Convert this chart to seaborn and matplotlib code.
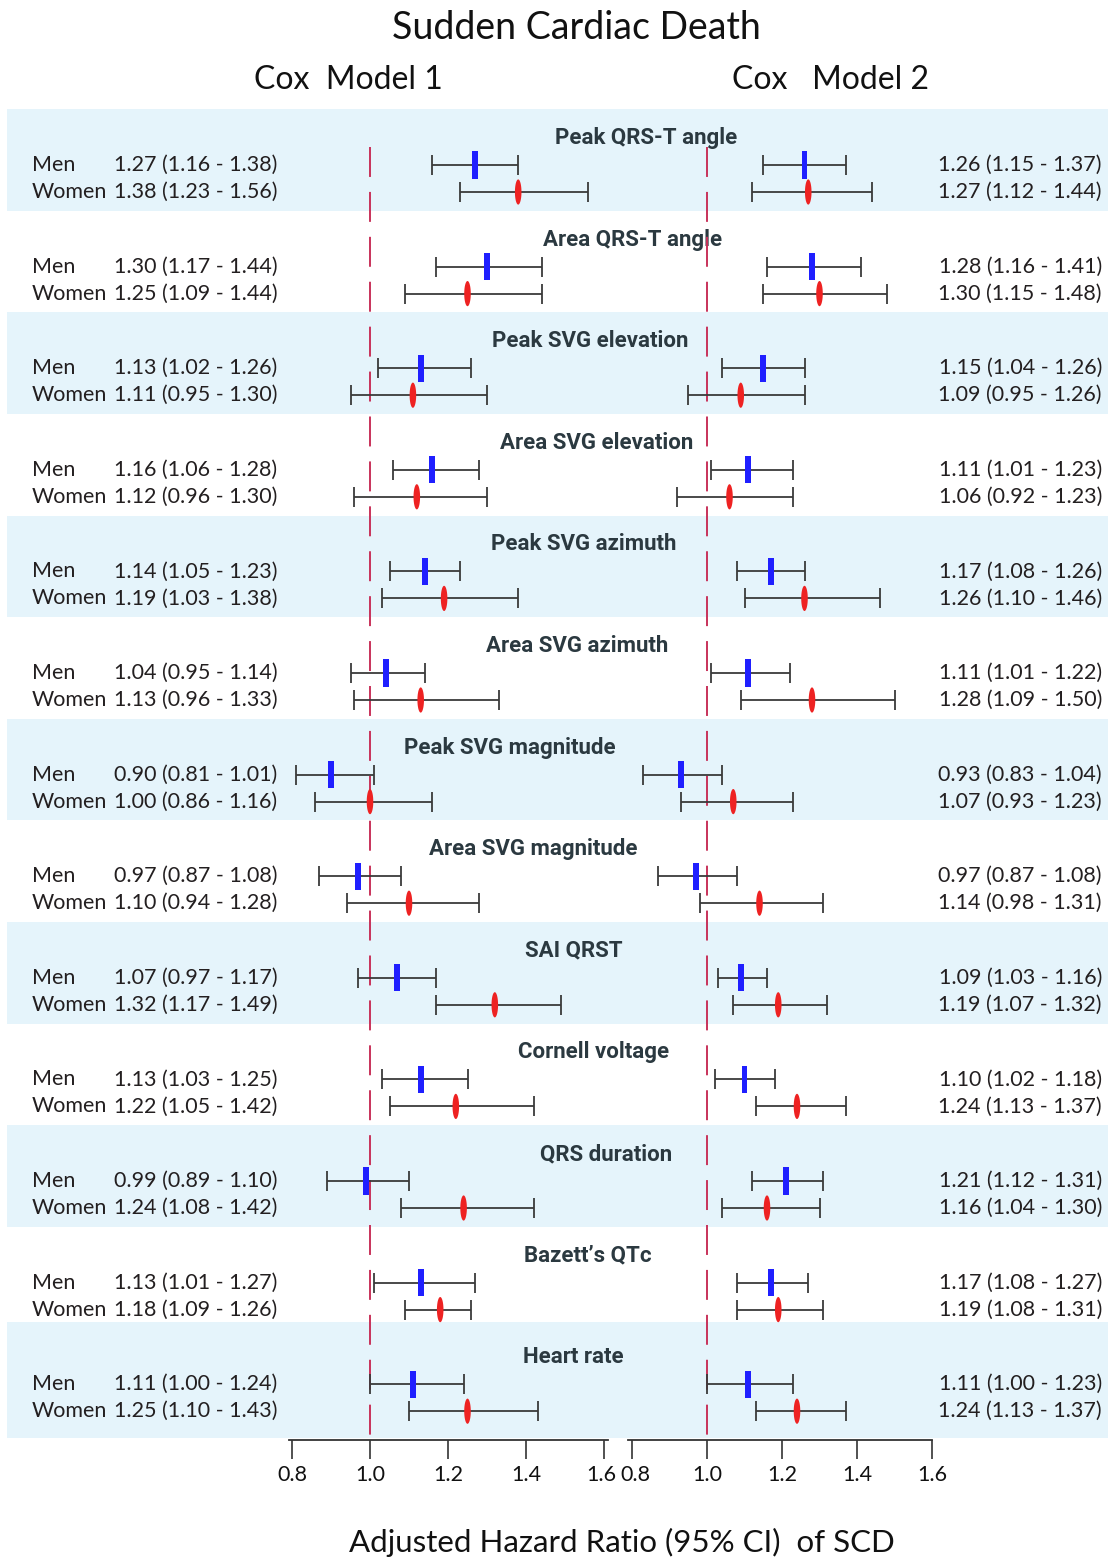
import numpy as np
import pandas as pd
import matplotlib
matplotlib.use("Agg")
import matplotlib.pyplot as plt
import matplotlib.transforms as mtransforms
import seaborn as sns

# ---------------- data ----------------
groups = ["Peak QRS-T angle", "Area QRS-T angle", "Peak SVG elevation",
          "Area SVG elevation", "Peak SVG azimuth", "Area SVG azimuth",
          "Peak SVG magnitude", "Area SVG magnitude", "SAI QRST",
          "Cornell voltage", "QRS duration", "Bazett\u2019s QTc", "Heart rate"]

m1_men_hr = [1.27, 1.30, 1.13, 1.16, 1.14, 1.04, 0.90, 0.97, 1.07, 1.13, 0.99, 1.13, 1.11]
m1_men_lo = [1.16, 1.17, 1.02, 1.06, 1.05, 0.95, 0.81, 0.87, 0.97, 1.03, 0.89, 1.01, 1.00]
m1_men_hi = [1.38, 1.44, 1.26, 1.28, 1.23, 1.14, 1.01, 1.08, 1.17, 1.25, 1.10, 1.27, 1.24]
m1_wom_hr = [1.38, 1.25, 1.11, 1.12, 1.19, 1.13, 1.00, 1.10, 1.32, 1.22, 1.24, 1.18, 1.25]
m1_wom_lo = [1.23, 1.09, 0.95, 0.96, 1.03, 0.96, 0.86, 0.94, 1.17, 1.05, 1.08, 1.09, 1.10]
m1_wom_hi = [1.56, 1.44, 1.30, 1.30, 1.38, 1.33, 1.16, 1.28, 1.49, 1.42, 1.42, 1.26, 1.43]

m2_men_hr = [1.26, 1.28, 1.15, 1.11, 1.17, 1.11, 0.93, 0.97, 1.09, 1.10, 1.21, 1.17, 1.11]
m2_men_lo = [1.15, 1.16, 1.04, 1.01, 1.08, 1.01, 0.83, 0.87, 1.03, 1.02, 1.12, 1.08, 1.00]
m2_men_hi = [1.37, 1.41, 1.26, 1.23, 1.26, 1.22, 1.04, 1.08, 1.16, 1.18, 1.31, 1.27, 1.23]
m2_wom_hr = [1.27, 1.30, 1.09, 1.06, 1.26, 1.28, 1.07, 1.14, 1.19, 1.24, 1.16, 1.19, 1.24]
m2_wom_lo = [1.12, 1.15, 0.95, 0.92, 1.10, 1.09, 0.93, 0.98, 1.07, 1.13, 1.04, 1.08, 1.13]
m2_wom_hi = [1.44, 1.48, 1.26, 1.23, 1.46, 1.50, 1.23, 1.31, 1.32, 1.37, 1.30, 1.31, 1.37]

ticks = [0.8, 1.0, 1.2, 1.4, 1.6]
tick_labels = ["0.8", "1.0", "1.2", "1.4", "1.6"]

# ---------------- layout (pixels) ----------------
W, H = 1108, 1560
ROW0, STEP = 160.0, 101.6
AX_TOP, AX_BOT = 107, 1440
title_x = [646, 633, 590, 597, 584, 577, 510, 533, 574, 594, 606, 588, 573]

n = len(groups)
centers = ROW0 + STEP * np.arange(n)
y_men = centers + 5
y_wom = centers + 32
y_title = centers - 22

sns.set_theme(style="white")
plt.rcParams["font.family"] = ["Lato", "DejaVu Sans"]

fig = plt.figure(figsize=(W / 100, H / 100), dpi=100)
fig.patch.set_facecolor("white")

# background axes in pixel coordinates
bg = fig.add_axes([0, 0, 1, 1])
bg.set_xlim(0, W)
bg.set_ylim(H, 0)
bg.axis("off")

band_color = "#e5f4fb"
for i in range(0, n, 2):
    top = centers[i] - STEP / 2
    bot = centers[i] + STEP / 2 if i < n - 1 else AX_BOT - 2
    if i == n - 1:
        top -= 6
    bg.fill_between([7, W], top, bot, color=band_color, lw=0, zorder=0)

txt_col = "#231f20"
fs_row = 15.5
for i in range(n):
    bg.text(32, y_men[i], "Men", fontsize=fs_row, va="center", ha="left", color=txt_col)
    bg.text(32, y_wom[i], "Women", fontsize=fs_row, va="center", ha="left", color=txt_col)
    bg.text(114, y_men[i], f"{m1_men_hr[i]:.2f} ({m1_men_lo[i]:.2f} - {m1_men_hi[i]:.2f})",
            fontsize=fs_row, va="center", ha="left", color=txt_col)
    bg.text(114, y_wom[i], f"{m1_wom_hr[i]:.2f} ({m1_wom_lo[i]:.2f} - {m1_wom_hi[i]:.2f})",
            fontsize=fs_row, va="center", ha="left", color=txt_col)
    bg.text(1102, y_men[i], f"{m2_men_hr[i]:.2f} ({m2_men_lo[i]:.2f} - {m2_men_hi[i]:.2f})",
            fontsize=fs_row, va="center", ha="right", color=txt_col)
    bg.text(1102, y_wom[i], f"{m2_wom_hr[i]:.2f} ({m2_wom_lo[i]:.2f} - {m2_wom_hi[i]:.2f})",
            fontsize=fs_row, va="center", ha="right", color=txt_col)
    bg.text(title_x[i], y_title[i], groups[i], fontsize=16, fontweight="bold",
            family=["Roboto", "DejaVu Sans"], va="center", ha="center",
            color="#2b3940", zorder=5)

bg.text(576, 28, "Sudden Cardiac Death", fontsize=27, ha="center", va="center", color="#111111")
bg.text(348, 80, "Cox  Model 1", fontsize=23, ha="center", va="center", color="#111111")
bg.text(830, 80, "Cox   Model 2", fontsize=23, ha="center", va="center", color="#111111")
bg.text(622, 1542, "Adjusted Hazard Ratio (95% CI)  of SCD", fontsize=22.5,
        ha="center", va="center", color="#111111")

# ---------------- forest panels ----------------
blue_marker = [(-0.11, -0.5), (0.11, -0.5), (0.11, 0.5), (-0.11, 0.5)]
t = np.linspace(0, 2 * np.pi, 40)
red_marker = list(zip(0.13 * np.cos(t), 0.5 * np.sin(t)))

panels = [
    (289, 608, 370, 390.0, m1_men_hr, m1_men_lo, m1_men_hi, m1_wom_hr, m1_wom_lo, m1_wom_hi),
    (628, 932, 707, 375.0, m2_men_hr, m2_men_lo, m2_men_hi, m2_wom_hr, m2_wom_lo, m2_wom_hi),
]

axes = []
for (x0, x1, x_one, ppu, mhr, mlo, mhi, whr, wlo, whi) in panels:
    ax = fig.add_axes([x0 / W, 1 - AX_BOT / H, (x1 - x0) / W, (AX_BOT - AX_TOP) / H])
    axes.append(ax)
    ax.set_facecolor("none")
    ax.set_xlim(1 - (x_one - x0) / ppu, 1 + (x1 - x_one) / ppu)
    ax.set_ylim(AX_BOT, AX_TOP)

    df = pd.DataFrame({
        "hr": list(mhr) + list(whr),
        "lo": list(mlo) + list(wlo),
        "hi": list(mhi) + list(whi),
        "y": list(y_men) + list(y_wom),
        "sex": ["Men"] * n + ["Women"] * n,
    })

    # reference line at HR = 1
    ax.plot([1.0, 1.0], [147, AX_BOT], color="#c8325a", lw=1.4,
            linestyle=(0, (15.4, 7.7)), zorder=1)

    ax.errorbar(df["hr"], df["y"], xerr=[df["hr"] - df["lo"], df["hi"] - df["hr"]],
                fmt="none", ecolor="#3a3a3a", elinewidth=1.3, capsize=7, capthick=1.3,
                zorder=2)

    men = df[df["sex"] == "Men"]
    wom = df[df["sex"] == "Women"]
    sns.scatterplot(data=men, x="hr", y="y", marker=blue_marker, s=380,
                    color="#1f1fff", edgecolor="none", ax=ax, zorder=3, legend=False)
    sns.scatterplot(data=wom, x="hr", y="y", marker=red_marker, s=330,
                    color="#ee2222", edgecolor="none", ax=ax, zorder=3, legend=False)

    for s in ["left", "right", "top"]:
        ax.spines[s].set_visible(False)
    ax.spines["bottom"].set_color("#333333")
    ax.spines["bottom"].set_linewidth(1.3)
    ax.set_xticks(ticks)
    ax.set_xticklabels(tick_labels)
    ax.set_yticks([])
    ax.set_xlabel("")
    ax.set_ylabel("")
    ax.tick_params(axis="x", direction="out", length=14, width=1.2, color="#333333",
                   labelsize=15.5, pad=4, bottom=True, labelcolor="#111111")

# nudge the two touching tick labels apart slightly
shift_l = mtransforms.ScaledTranslation(-3 / 100, 0, fig.dpi_scale_trans)
shift_r = mtransforms.ScaledTranslation(3 / 100, 0, fig.dpi_scale_trans)
lab_l = axes[0].get_xticklabels()[-1]
lab_l.set_transform(lab_l.get_transform() + shift_l)
lab_r = axes[1].get_xticklabels()[0]
lab_r.set_transform(lab_r.get_transform() + shift_r)

fig.savefig("out.png", dpi=100, facecolor="white")
